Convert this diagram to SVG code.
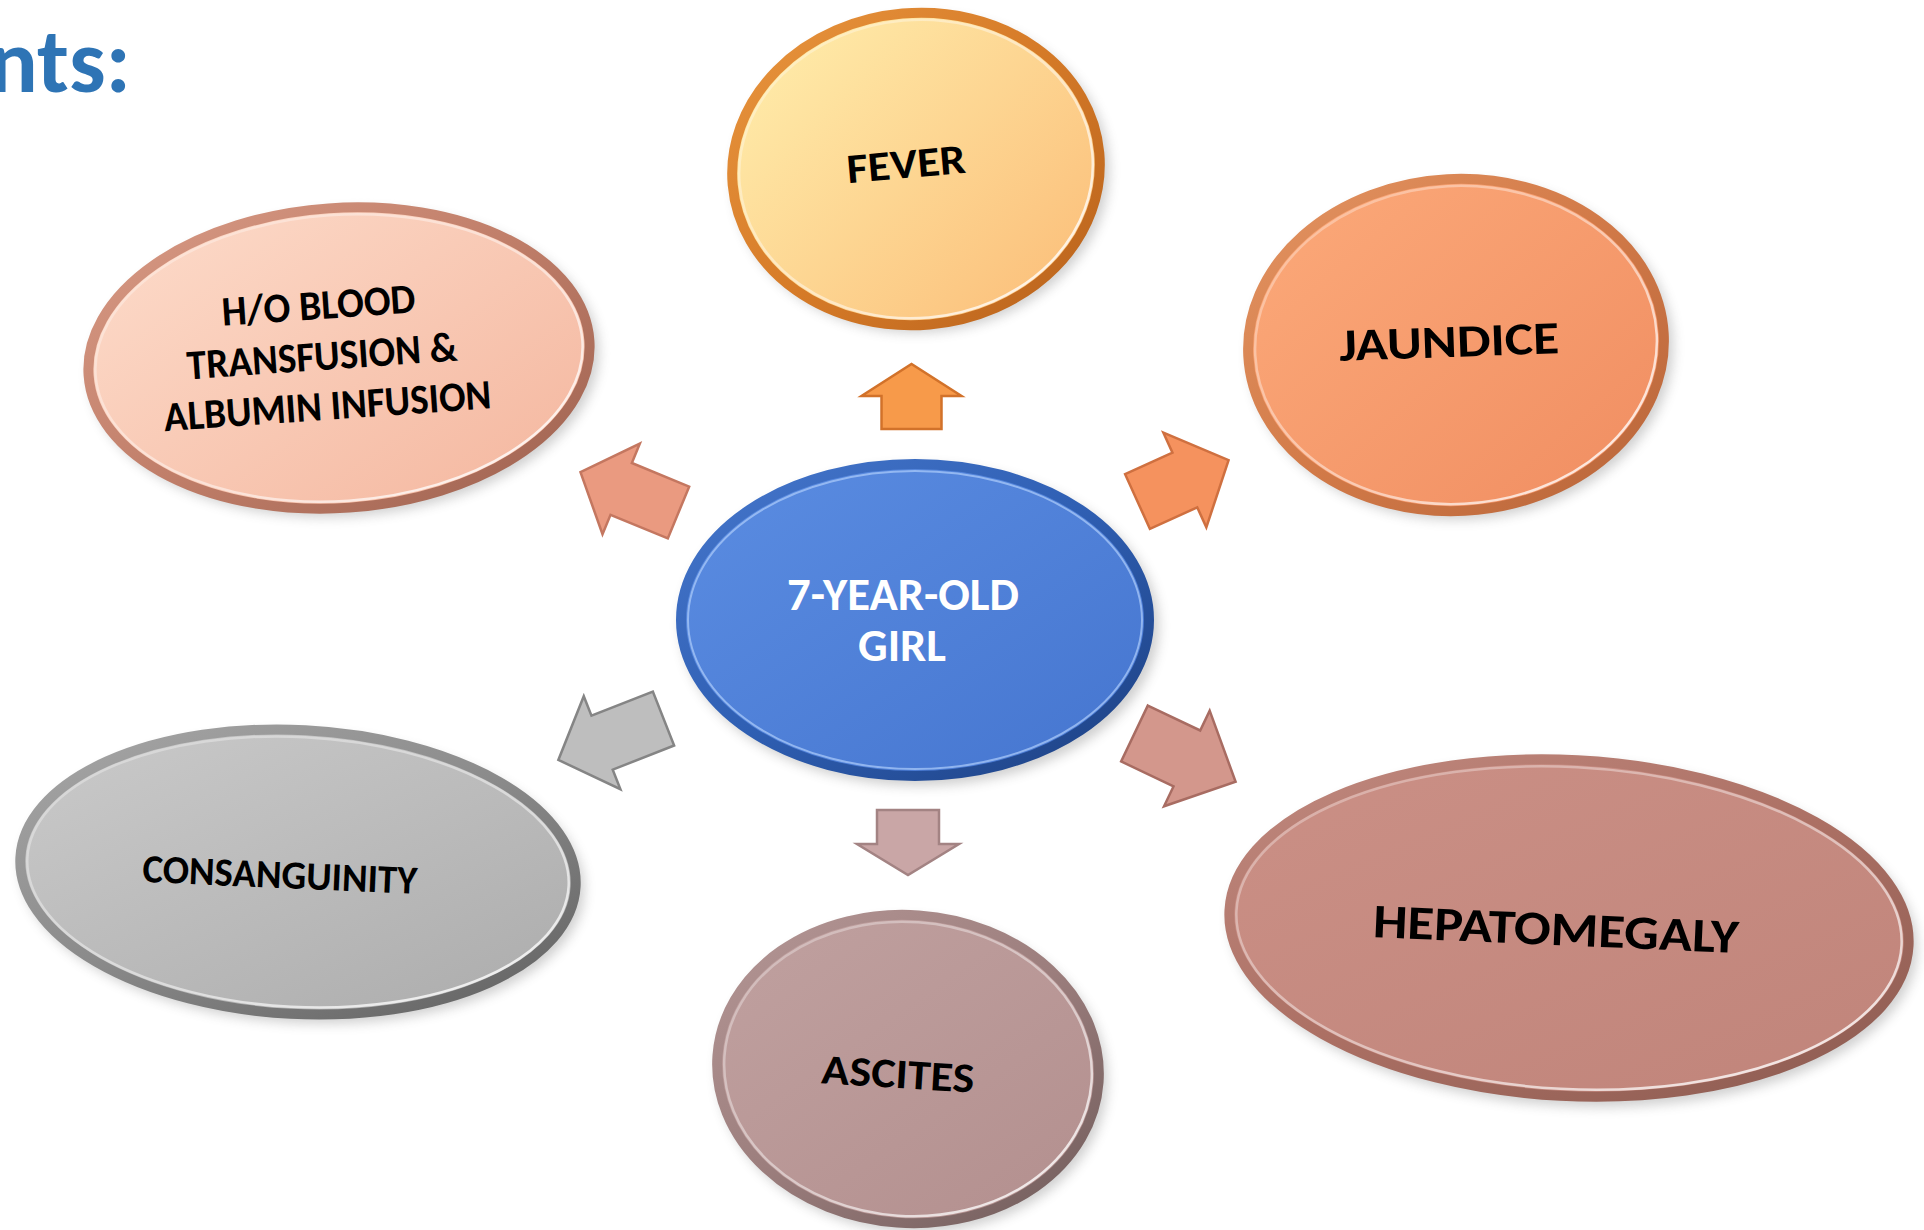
<svg xmlns="http://www.w3.org/2000/svg" width="1924" height="1230" viewBox="0 0 1924 1230">
<defs>
<style>
.lbl{font-family:Carlito,Calibri,Roboto,"Liberation Sans",sans-serif;font-weight:700;text-anchor:middle;fill:#000}
.lblw{font-family:Carlito,Calibri,Roboto,"Liberation Sans",sans-serif;font-weight:700;text-anchor:middle;fill:#fff}
.title{font-family:Carlito,Calibri,Roboto,"Liberation Sans",sans-serif;font-weight:700;fill:#2E74B5}
.shadow{fill:#555;opacity:.28;filter:url(#blur)}
.hl{fill:none;stroke:url(#hlGrad);stroke-width:2.5}
.arrow{stroke-width:2.5;stroke-linejoin:miter}
</style>
<filter id="blur" x="-20%" y="-20%" width="140%" height="140%"><feGaussianBlur stdDeviation="6"/></filter>
<linearGradient id="hlGrad" x1="0" y1="0" x2="1" y2="1"><stop offset="0" stop-color="#fff" stop-opacity=".25"/><stop offset=".6" stop-color="#fff" stop-opacity=".5"/><stop offset="1" stop-color="#fff" stop-opacity=".95"/></linearGradient>
<linearGradient id="gFever" x1="0" y1="0" x2="1" y2="1"><stop offset="0" stop-color="#FFF0AE"/><stop offset="1" stop-color="#FBBB76"/></linearGradient>
<linearGradient id="rFever" x1="0" y1="0" x2="1" y2="1"><stop offset="0" stop-color="#E8953E"/><stop offset=".5" stop-color="#D67B28"/><stop offset="1" stop-color="#B8621C"/></linearGradient>
<linearGradient id="gJaun" x1="0" y1="0" x2="1" y2="1"><stop offset="0" stop-color="#FCAA7A"/><stop offset="1" stop-color="#F08D61"/></linearGradient>
<linearGradient id="rJaun" x1="0" y1="0" x2="1" y2="1"><stop offset="0" stop-color="#E39462"/><stop offset=".5" stop-color="#D27A48"/><stop offset="1" stop-color="#B8653A"/></linearGradient>
<linearGradient id="gHo" x1="0" y1="0" x2="1" y2="1"><stop offset="0" stop-color="#FDDCCB"/><stop offset="1" stop-color="#F4B69E"/></linearGradient>
<linearGradient id="rHo" x1="0" y1="0" x2="1" y2="1"><stop offset="0" stop-color="#D89A85"/><stop offset=".5" stop-color="#C07E69"/><stop offset="1" stop-color="#9E6250"/></linearGradient>
<linearGradient id="gCen" x1="0" y1="0" x2="1" y2="1"><stop offset="0" stop-color="#5B8DE2"/><stop offset="1" stop-color="#4575CF"/></linearGradient>
<linearGradient id="rCen" x1="0" y1="0" x2="1" y2="1"><stop offset="0" stop-color="#4677CC"/><stop offset=".5" stop-color="#2F5FB3"/><stop offset="1" stop-color="#1C3F80"/></linearGradient>
<linearGradient id="gCons" x1="0" y1="0" x2="1" y2="1"><stop offset="0" stop-color="#CBCBCB"/><stop offset="1" stop-color="#ABABAB"/></linearGradient>
<linearGradient id="rCons" x1="0" y1="0" x2="1" y2="1"><stop offset="0" stop-color="#A8A8A8"/><stop offset=".5" stop-color="#8A8A8A"/><stop offset="1" stop-color="#5E5E5E"/></linearGradient>
<linearGradient id="gAsc" x1="0" y1="0" x2="1" y2="1"><stop offset="0" stop-color="#C0A1A0"/><stop offset="1" stop-color="#B38F8E"/></linearGradient>
<linearGradient id="rAsc" x1="0" y1="0" x2="1" y2="1"><stop offset="0" stop-color="#B59796"/><stop offset=".5" stop-color="#9C7E7D"/><stop offset="1" stop-color="#6E5A59"/></linearGradient>
<linearGradient id="gHep" x1="0" y1="0" x2="1" y2="1"><stop offset="0" stop-color="#CB9086"/><stop offset="1" stop-color="#C0847A"/></linearGradient>
<linearGradient id="rHep" x1="0" y1="0" x2="1" y2="1"><stop offset="0" stop-color="#C18A80"/><stop offset=".5" stop-color="#AC7064"/><stop offset="1" stop-color="#8A5A50"/></linearGradient>
</defs>
<rect width="1924" height="1230" fill="#fff"/>
<text class="title" x="131" y="92" font-size="92" text-anchor="end">nts:</text>

<g id="connectors">
  <g id="arrow-fever" transform="translate(911.5,429) rotate(-90)">
    <polygon class="arrow" points="0,-30 33,-30 33,-50 65,0 33,50 33,30 0,30" fill="#F79A4A" stroke="#D2722A"/>
  </g>
  <g id="arrow-ho" transform="translate(678.5,512.5) rotate(-157.6)">
    <polygon class="arrow" points="0,-28 62,-28 62,-49 106,0 62,49 62,28 0,28" fill="#EA9A80" stroke="#C47760"/>
  </g>
  <g id="arrow-jaundice" transform="translate(1137.5,501.5) rotate(-24.4)">
    <polygon class="arrow" points="0,-30 52,-30 52,-52 100,0 52,52 52,30 0,30" fill="#F5925E" stroke="#CF7040"/>
  </g>
  <g id="arrow-cons" transform="translate(663.5,718.5) rotate(158.5)">
    <polygon class="arrow" points="0,-29 66,-29 66,-50 113,0 66,50 66,29 0,29" fill="#BEBEBE" stroke="#858585"/>
  </g>
  <g id="arrow-hepato" transform="translate(1134.5,733.5) rotate(25.5)">
    <polygon class="arrow" points="0,-31 58,-31 58,-53 112,0 58,53 58,31 0,31" fill="#D3978C" stroke="#A86C62"/>
  </g>
  <g id="arrow-ascites" transform="translate(908,810) rotate(90)">
    <polygon class="arrow" points="0,-31 34,-31 34,-51 65,0 34,51 34,31 0,31" fill="#C9A6A6" stroke="#A38383"/>
  </g>
</g>

<g id="node-fever">
  <ellipse class="shadow" cx="921" cy="175" rx="188" ry="158" transform="rotate(-5 916 169)"/>
  <ellipse cx="916" cy="169" rx="184" ry="156" transform="rotate(-5 916 169)" fill="url(#gFever)" stroke="url(#rFever)" stroke-width="10"/>
  <ellipse class="hl" cx="916" cy="169" rx="177" ry="149" transform="rotate(-5 916 169)"/>
  <text class="lbl" x="906" y="178" font-size="42" textLength="119" lengthAdjust="spacingAndGlyphs" transform="rotate(-5 906 163)">FEVER</text>
</g>

<g id="node-jaundice">
  <ellipse class="shadow" cx="1461" cy="351" rx="212" ry="169" transform="rotate(-3 1456 345)"/>
  <ellipse cx="1456" cy="345" rx="208" ry="166" transform="rotate(-3 1456 345)" fill="url(#gJaun)" stroke="url(#rJaun)" stroke-width="10"/>
  <ellipse class="hl" cx="1456" cy="345" rx="201" ry="159" transform="rotate(-3 1456 345)"/>
  <text class="lbl" x="1449" y="357" font-size="46" textLength="220" lengthAdjust="spacingAndGlyphs" transform="rotate(-2 1449 341)">JAUNDICE</text>
</g>

<g id="node-ho">
  <ellipse class="shadow" cx="344" cy="364" rx="255" ry="153" transform="rotate(-4 339 358)"/>
  <ellipse cx="339" cy="358" rx="251" ry="150" transform="rotate(-4 339 358)" fill="url(#gHo)" stroke="url(#rHo)" stroke-width="10"/>
  <ellipse class="hl" cx="339" cy="358" rx="244" ry="143" transform="rotate(-4 339 358)"/>
  <g transform="rotate(-4 322 356)">
    <text class="lbl" x="322" y="319" font-size="42" textLength="194" lengthAdjust="spacingAndGlyphs">H/O BLOOD</text>
    <text class="lbl" x="322" y="370" font-size="42" textLength="271" lengthAdjust="spacingAndGlyphs">TRANSFUSION &amp;</text>
    <text class="lbl" x="324" y="420" font-size="42" textLength="328" lengthAdjust="spacingAndGlyphs">ALBUMIN INFUSION</text>
  </g>
</g>

<g id="node-center">
  <ellipse class="shadow" cx="920" cy="626" rx="239" ry="160"/>
  <ellipse cx="915" cy="620" rx="234" ry="156" fill="url(#gCen)" stroke="url(#rCen)" stroke-width="10"/>
  <ellipse cx="915" cy="620" rx="227" ry="149" fill="none" stroke="#A8C8F8" stroke-opacity=".75" stroke-width="2"/>
  <text class="lblw" x="903" y="610" font-size="46" textLength="232" lengthAdjust="spacingAndGlyphs">7-YEAR-OLD</text>
  <text class="lblw" x="902" y="661" font-size="46" textLength="88" lengthAdjust="spacingAndGlyphs">GIRL</text>
</g>

<g id="node-consanguinity">
  <ellipse class="shadow" cx="303" cy="878" rx="282" ry="145" transform="rotate(3 298 872)"/>
  <ellipse cx="298" cy="872" rx="278" ry="142" transform="rotate(3 298 872)" fill="url(#gCons)" stroke="url(#rCons)" stroke-width="10"/>
  <ellipse class="hl" cx="298" cy="872" rx="271" ry="135" transform="rotate(3 298 872)"/>
  <text class="lbl" x="280" y="888" font-size="40" textLength="275" lengthAdjust="spacingAndGlyphs" transform="rotate(2.5 280 874)">CONSANGUINITY</text>
</g>

<g id="node-ascites">
  <ellipse class="shadow" cx="913" cy="1075" rx="195" ry="157" transform="rotate(4 908 1069)"/>
  <ellipse cx="908" cy="1069" rx="191" ry="154" transform="rotate(4 908 1069)" fill="url(#gAsc)" stroke="url(#rAsc)" stroke-width="10"/>
  <ellipse class="hl" cx="908" cy="1069" rx="184" ry="147" transform="rotate(4 908 1069)"/>
  <text class="lbl" x="898" y="1088" font-size="42" textLength="153" lengthAdjust="spacingAndGlyphs" transform="rotate(3.5 898 1074)">ASCITES</text>
</g>

<g id="node-hepatomegaly">
  <ellipse class="shadow" cx="1574" cy="934" rx="344" ry="172" transform="rotate(3 1569 928)"/>
  <ellipse cx="1569" cy="928" rx="340" ry="168" transform="rotate(3 1569 928)" fill="url(#gHep)" stroke="url(#rHep)" stroke-width="10"/>
  <ellipse class="hl" cx="1569" cy="928" rx="333" ry="161" transform="rotate(3 1569 928)"/>
  <text class="lbl" x="1556" y="945" font-size="48" textLength="366" lengthAdjust="spacingAndGlyphs" transform="rotate(2.5 1556 928)">HEPATOMEGALY</text>
</g>
</svg>
